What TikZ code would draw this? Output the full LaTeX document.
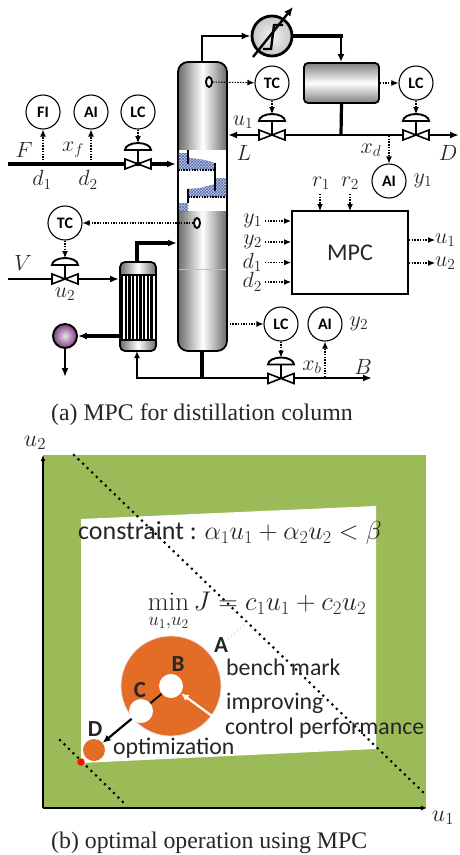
\RequirePackage{fix-cm}
\documentclass[tikz,border=0pt]{standalone}
\usepackage{fontspec}
\usepackage{amsmath}
\usetikzlibrary{arrows.meta,patterns,shapes.geometric}
\newfontfamily\calfont{Carlito}
\newfontfamily\capfont{Liberation Serif}
\definecolor{plotgreen}{HTML}{9BBB59}
\definecolor{disc}{HTML}{E36C26}
\definecolor{ink}{HTML}{262626}
\definecolor{trayblue}{HTML}{C3CBE6}
\definecolor{traypat}{HTML}{5468B0}
\definecolor{purp}{HTML}{7A3F80}
\tikzset{
  inst/.style={circle,draw,line width=1.1pt,minimum size=34pt,inner sep=0pt,font=\calfont\bfseries\fontsize{16}{16}\selectfont},
  sig/.style={line width=1.1pt,dash pattern=on 1.4pt off 1.3pt,-{Latex[length=7pt,width=6pt]}},
  pipe/.style={line width=3.2pt},
  pipearrow/.style={line width=3.2pt,-{Latex[length=9pt,width=7pt]}},
  mlab/.style={inner sep=0pt,text=ink,font=\fontsize{22}{24}\selectfont},
  calt/.style={inner sep=0pt,anchor=west,text=ink,font=\calfont\fontsize{23.8}{25}\selectfont},
  calb/.style={inner sep=0pt,text=ink,font=\calfont\bfseries\fontsize{23}{24}\selectfont},
  captext/.style={inner sep=0pt,anchor=west,text=ink,font=\capfont\fontsize{23.8}{25}\selectfont},
  dotline/.style={line width=3pt,line cap=round,dash pattern=on 0pt off 6.3pt},
  trayhatch/.style={fill=trayblue,postaction={pattern=crosshatch,pattern color=traypat}},
  traydots/.style={line width=1.4pt,dash pattern=on 1.5pt off 1.2pt},
  metal/.style={left color=black!58,right color=black!58,middle color=white},
}
% valve: name, x, y  (y = pipe centre)
\newcommand{\vlv}[3]{%
  \coordinate (#1) at (#2,#3);
  \coordinate (#1-top) at (#2,#3-21);
  \draw[line width=1.9pt] (#2,#3) -- (#2,#3-14);
  \draw[line width=1.9pt,fill=white,line join=miter]
     (#2-13,#3-14) arc[start angle=180,end angle=0,x radius=13,y radius=-7] -- cycle;
  \draw[line width=1.6pt,fill=white,line join=miter]
     (#2,#3) -- (#2-13,#3-5) -- (#2-13,#3+5) -- cycle
     (#2,#3) -- (#2+13,#3-5) -- (#2+13,#3+5) -- cycle;
}
\begin{document}
\begin{tikzpicture}[x=1pt,y=-1pt]
\useasboundingbox (0,0) rectangle (460,855);
\fill[white] (0,0) rectangle (460,855);

% ---------- column
\path[draw,line width=1.8pt,metal,rounded corners=10pt] (178,62) rectangle (227,351);
\fill[white] (179,150) rectangle (226,211);
\draw[line width=1.8pt] (178,150) -- (178,211) (227,150) -- (227,211);
\draw[white!75!black,line width=0.8pt] (179,269) -- (226,269);
% trays
\path[trayhatch] (178.8,153) -- (187,153) -- (190,158) -- (205,160) -- (215,163) -- (215,170) -- (178.8,170) -- cycle;
\path[trayhatch] (188,189) -- (200,188) -- (215,184) -- (215,178) -- (226.2,178) -- (226.2,197) -- (188,197) -- cycle;
\path[trayhatch] (178.8,203) -- (188,203) -- (188,211) -- (178.8,211) -- cycle;
\draw[traydots] (178,170) -- (215,170) (188,197) -- (227,197);
\draw[line width=1.9pt] (188,150) -- (188,164) (215,163) -- (215,191) (188,189) -- (188,203);
\node[draw,ellipse,line width=1.9pt,minimum width=6pt,minimum height=10pt,inner sep=0pt,fill=white] (s1) at (209,82) {};
\node[draw,ellipse,line width=1.9pt,minimum width=6pt,minimum height=10pt,inner sep=0pt,fill=white] (s2) at (197,223) {};

% ---------- overhead
\coordinate (ctop) at (202,62);
\node[circle,draw,line width=2.8pt,minimum size=40pt,inner sep=0pt,inner color=white!95!black,outer color=black!22] (cond) at (272,36) {};
\draw[pipearrow,line width=2.8pt] (ctop) -- (202,36) -- (cond);
\draw[line width=2.4pt,-{Latex[length=9pt,width=8pt]}] (253,57) -- (293,7);
\draw[line width=2.4pt] (263,49) -- (271,49) -- (274,25) -- (283,25);
\node[draw,line width=1.8pt,rounded corners=4pt,minimum width=75pt,minimum height=40pt,inner sep=0pt,top color=black!50,bottom color=black!50,middle color=white] (drum) at (341.5,83) {};
\draw[line width=4.5pt] (cond.east) -- (342.5,36);
\draw[line width=2.4pt,-{Latex[length=8pt,width=7pt]}] (341,34) -- (341,62);

% reflux line
\coordinate (junc) at (341,135);
\coordinate (refluxend) at (228,135);
\coordinate (dist) at (459,135);
\draw[pipe] (drum.south) -- (junc);
\draw[pipearrow,line width=2.6pt] (junc) -- (refluxend);
\draw[pipearrow,line width=2.6pt] (junc) -- (dist);
\vlv{v1}{272}{135}
\vlv{v2}{416}{135}
\node[inst] (tc1) at (272,83) {TC};
\node[inst] (lc2) at (416,83) {LC};
\node[inst] (ai3) at (389,181) {AI};
\draw[sig] (s1) -- (tc1);
\draw[sig] (drum) -- (lc2);
\draw[sig] (tc1) -- (v1-top);
\draw[sig] (lc2) -- (v2-top);
\coordinate (xdtap) at (389,136);
\draw[sig] (xdtap) -- (ai3);
\node[mlab] at (243,122) {$u_1$};
\node[mlab] at (244,153) {$L$};
\node[mlab] at (371,150) {$x_d$};
\node[mlab] at (448,153) {$D$};
\node[mlab] at (423,181) {$y_1$};
\node[mlab] (r1) at (321,183) {$r_1$};
\node[mlab] (r2) at (350,183) {$r_2$};

% ---------- feed
\coordinate (fstart) at (8,164);
\coordinate (fend) at (176,164);
\draw[pipearrow] (fstart) -- (fend);
\vlv{v3}{138}{164}
\node[inst] (fi) at (43,112) {FI};
\node[inst] (ai1) at (91,112) {AI};
\node[inst] (lc1) at (138,112) {LC};
\coordinate (t1) at (43,163);
\coordinate (t2) at (91,163);
\draw[sig] (t1) -- (fi);
\draw[sig] (t2) -- (ai1);
\draw[sig] (lc1) -- (v3-top);
\node[mlab] at (24,150) {$F$};
\node[mlab] at (73,150) {$x_f$};
\node[mlab] at (42,180) {$d_1$};
\node[mlab] at (88,180) {$d_2$};

% ---------- reboiler
\node[draw,line width=1.8pt,rounded corners=5pt,minimum width=36pt,minimum height=89pt,inner sep=0pt,metal] (reb) at (138,306.5) {};
\fill[white] (121,275) rectangle (155,340);
\foreach \xx in {122,125.7,...,155}{\draw[line width=2.3pt] (\xx,275) -- (\xx,340);}
\draw[line width=1.5pt] (120,275) -- (156,275) (120,340) -- (156,340);
\coordinate (rtop) at (137,262);
\coordinate (cin) at (177,243);
\draw[pipearrow] (rtop) -- (137,243) -- (cin);
\coordinate (vstart) at (8,279);
\coordinate (vend) at (119,279);
\draw[pipearrow,line width=2.6pt] (vstart) -- (vend);
\vlv{v4}{65}{279}
\node[inst] (tc2) at (65,223) {TC};
\draw[sig] (s2) -- (tc2);
\draw[sig] (tc2) -- (v4-top);
\node[mlab] at (23,263) {$V$};
\node[mlab] at (65,294) {$u_2$};
\node[circle,draw,line width=1.9pt,minimum size=24pt,inner sep=0pt,inner color=white!85!purp,outer color=purp] (pump) at (65,336) {};
\coordinate (rout) at (120,336);
\coordinate (pdown) at (65,377);
\draw[pipearrow] (rout) -- (pump);
\draw[pipearrow,line width=2.6pt] (pump) -- (pdown);

% ---------- bottoms
\coordinate (cbot) at (202,351);
\coordinate (bj) at (202,378);
\coordinate (rin) at (137,351);
\coordinate (bend) at (372,378);
\draw[pipe] (cbot) -- (bj);
\draw[line width=2.4pt,-{Latex[length=7pt,width=6pt]}] (bj) -- (137,378) -- (rin);
\draw[pipearrow,line width=2.6pt] (bj) -- (bend);
\vlv{v5}{281}{378.5}
\node[inst] (lc3) at (281,324) {LC};
\node[inst] (ai2) at (325,324) {AI};
\coordinate (lvl) at (227,324);
\coordinate (xbtap) at (325,377);
\draw[sig] (lvl) -- (lc3);
\draw[sig] (lc3) -- (v5-top);
\draw[sig] (xbtap) -- (ai2);
\node[mlab] at (312,367) {$x_b$};
\node[mlab] at (363,367) {$B$};
\node[mlab] at (359,324) {$y_2$};

% ---------- MPC
\node[draw,line width=1.4pt,minimum width=116pt,minimum height=83pt,inner sep=0pt,text=ink,font=\calfont\fontsize{24}{26}\selectfont] (mpc) at (350,252.5) {MPC};
\coordinate (r1t) at (320,194);
\coordinate (r1b) at (320,211);
\coordinate (r2t) at (350,194);
\coordinate (r2b) at (350,211);
\draw[sig] (r1t) -- (r1b);
\draw[sig] (r2t) -- (r2b);
\foreach \nm/\lab/\yy in {iy1/y_1/221,iy2/y_2/242,id1/d_1/262.5,id2/d_2/282}{
  \node[mlab,anchor=east] (\nm) at (262,\yy) {$\lab$};
  \coordinate (\nm e) at (291,\yy);
  \coordinate (\nm s) at (265,\yy);
  \draw[sig] (\nm s) -- (\nm e);
}
\foreach \nm/\lab/\yy in {ou1/u_1/240,ou2/u_2/263}{
  \coordinate (\nm s) at (409,\yy);
  \node[mlab,anchor=west] (\nm) at (435,\yy) {$\lab$};
  \draw[sig] (\nm s) -- (\nm);
}

\node[captext] (capa) at (51,415) {(a) MPC for distillation column};

% ========== plot
\fill[plotgreen] (43,455) rectangle (426,808);
\fill[white] (81,519) -- (376,506) -- (376,749) -- (81,763) -- cycle;
\coordinate (org) at (43,808);
\coordinate (axy) at (43,455);
\coordinate (axx) at (427,808);
\draw[line width=1.6pt,-{Latex[length=6pt,width=5pt]}] (org) -- (axy);
\draw[line width=1.6pt,-{Latex[length=6pt,width=5pt]}] (org) -- (axx);
\node[mlab,font=\fontsize{24}{26}\selectfont] at (35,443) {$u_2$};
\node[mlab,font=\fontsize{24}{26}\selectfont] at (443,818) {$u_1$};
\coordinate (l1a) at (74,455);
\coordinate (l1b) at (425,794);
\coordinate (l2a) at (60,740);
\coordinate (l2b) at (125,804);
\draw[dotline] (l1a) -- (l1b);
\draw[dotline] (l2a) -- (l2b);
\coordinate (fa) at (228,639);
\coordinate (fb) at (247,622);
\draw[line width=1pt,black!18,dash pattern=on 1.5pt off 2.5pt] (fa) -- (fb);

\node[circle,fill=disc,draw=black!12,line width=0.7pt,minimum size=100pt,inner sep=0pt] (A) at (171,686) {};
\node[circle,fill=white,minimum size=24pt,inner sep=0pt] (Bc) at (171,686) {};
\node[circle,fill=white,minimum size=24pt,inner sep=0pt] (Cc) at (141,711) {};
\node[circle,fill=disc,minimum size=22pt,inner sep=0pt] (Dc) at (94,750) {};
\node[circle,fill=red!90!orange,minimum size=7.5pt,inner sep=0pt] (opt) at (81,762) {};
\draw[line width=1.8pt] (Bc) -- (Cc);
\draw[line width=2.2pt,-{Latex[length=8pt,width=7pt]}] (Cc) -- (Dc);
\coordinate (wa) at (212,716);
\draw[white,line width=2.2pt,-{Latex[length=8pt,width=7pt]}] (wa) -- (Bc);

\node[calb] at (221,645) {A};
\node[calb] at (178,664) {B};
\node[calb] at (140,690) {C};
\node[calb] at (95,729) {D};
\node[calt] at (226,667) {bench mark};
\node[calt] at (226,703) {improving};
\node[calt] at (225,728) {control performance};
\node[calt] at (113,748) {optimization};
\node[calt,inner sep=0pt,font=\calfont\fontsize{26}{28}\selectfont] at (78,533) {constraint : $\alpha_1u_1+\alpha_2u_2<\beta$};
\node[inner sep=0pt,text=ink,font=\fontsize{27}{29}\selectfont] at (257,612) {$\min\limits_{u_1,u_2} J = c_1u_1+c_2u_2$};

\node[captext] (capb) at (51,843) {(b) optimal operation using MPC};
\end{tikzpicture}
\end{document}
